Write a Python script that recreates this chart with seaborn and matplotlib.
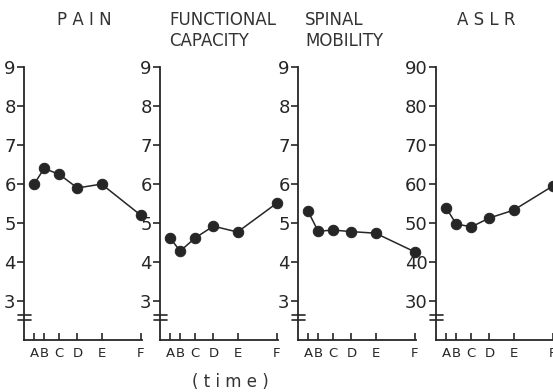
import pandas as pd
import seaborn as sns
import matplotlib.pyplot as plt
from matplotlib import transforms

# time points (positions along the time axis) and their labels
TIME_POS = [1, 2, 3.5, 5.3, 7.7, 11.6]
TIME_LABELS = ['A', 'B', 'C', 'D', 'E', 'F']

pain = [6.0, 6.4, 6.25, 5.9, 6.0, 5.2]
functional = [4.62, 4.28, 4.62, 4.92, 4.77, 5.51]
spinal = [5.3, 4.79, 4.82, 4.78, 4.74, 4.26]
aslr = [53.9, 49.8, 49.0, 51.3, 53.3, 59.5]

small_ticks = [3, 4, 5, 6, 7, 8, 9]
aslr_ticks = [30, 40, 50, 60, 70, 80, 90]

INK = '#262626'


def draw_panel(ax, values, yticks, ylim, brk):
    df = pd.DataFrame({'time': TIME_POS, 'score': values})
    sns.lineplot(data=df, x='time', y='score', ax=ax, color=INK, lw=1.1,
                 marker='o', markersize=7.5, markeredgecolor=INK,
                 markerfacecolor=INK, clip_on=False)
    ax.set_xlim(0, 11.75)
    ax.set_ylim(*ylim)
    ax.set_yticks(yticks)
    ax.set_xticks(TIME_POS)
    ax.set_xticklabels(TIME_LABELS, fontsize=9.5, color='#333333')
    ax.set(xlabel='', ylabel='')
    sns.despine(ax=ax)
    for s in ['left', 'bottom']:
        ax.spines[s].set_linewidth(1.3)
        ax.spines[s].set_color(INK)
    ax.tick_params(axis='y', direction='out', length=5, width=1.2,
                   pad=1, labelsize=13, colors=INK)
    ax.tick_params(axis='x', direction='in', length=5, width=1.2,
                   pad=5, colors=INK)
    # axis break marks on the y spine
    tr = transforms.blended_transform_factory(ax.transAxes, ax.transData)
    for y in brk:
        ax.plot([-0.05, 0.06], [y, y], transform=tr, color=INK, lw=1.2,
                clip_on=False)


sns.set_style('ticks')
plt.rcParams['font.family'] = ['DejaVu Sans']

fig = plt.figure(figsize=(5.53, 3.92), dpi=100)
lefts = [0.0434, 0.2893, 0.5389, 0.7884]
axes = [fig.add_axes([l, 0.1327, 0.214, 0.696]) for l in lefts]

draw_panel(axes[0], pain, small_ticks, (2, 9), [2.63, 2.5])
draw_panel(axes[1], functional, small_ticks, (2, 9), [2.63, 2.5])
draw_panel(axes[2], spinal, small_ticks, (2, 9), [2.63, 2.5])
draw_panel(axes[3], aslr, aslr_ticks, (20, 90), [26.3, 25.0])

fig.text(84 / 553, 1 - 20 / 392, 'P A I N', ha='center', va='center',
         fontsize=12, color='#333333')
fig.text(169 / 553, 1 - 20 / 392, 'FUNCTIONAL', ha='left', va='center',
         fontsize=12, color='#333333')
fig.text(169 / 553, 1 - 41 / 392, 'CAPACITY', ha='left', va='center',
         fontsize=12, color='#333333')
fig.text(305 / 553, 1 - 20 / 392, 'SPINAL', ha='left', va='center',
         fontsize=12, color='#333333')
fig.text(305 / 553, 1 - 41 / 392, 'MOBILITY', ha='left', va='center',
         fontsize=12, color='#333333')
fig.text(486 / 553, 1 - 20 / 392, 'A S L R', ha='center', va='center',
         fontsize=12, color='#333333')
fig.text(230 / 553, 1 - 382 / 392, '( t i m e )', ha='center', va='center',
         fontsize=12, color='#333333')

fig.savefig('out.png', dpi=100)
